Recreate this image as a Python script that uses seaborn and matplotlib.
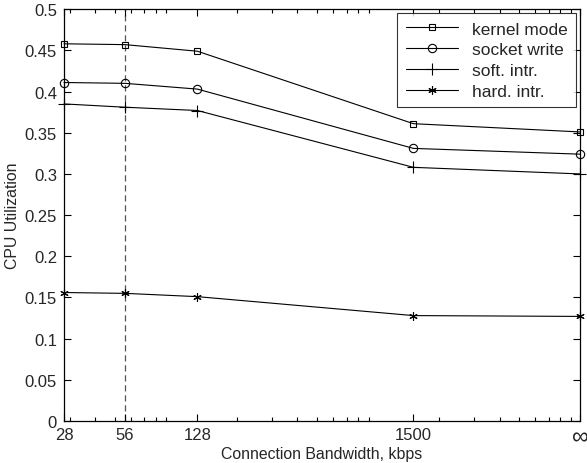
import matplotlib
matplotlib.use("Agg")
import matplotlib.pyplot as plt
import seaborn as sns
import pandas as pd
from matplotlib.ticker import FixedLocator, FixedFormatter, LogLocator, NullFormatter

# ---- data ----
bandwidth = [28, 56, 128, 1500, 10000]          # 10000 stands for "infinite"
x_tick_labels = ["28", "56", "128", "1500", "\u221e"]
kernel_mode = [0.458, 0.457, 0.449, 0.361, 0.351]
socket_write = [0.411, 0.410, 0.403, 0.331, 0.324]
soft_intr = [0.385, 0.381, 0.377, 0.308, 0.300]
hard_intr = [0.156, 0.155, 0.151, 0.128, 0.127]
series_names = ["kernel mode", "socket write", "soft. intr.", "hard. intr."]
y_ticks = [0, 0.05, 0.1, 0.15, 0.2, 0.25, 0.3, 0.35, 0.4, 0.45, 0.5]
y_tick_labels = ["0", "0.05", "0.1", "0.15", "0.2", "0.25", "0.3", "0.35", "0.4", "0.45", "0.5"]
dashed_at = 56

sns.set_style("ticks")
plt.rcParams["font.family"] = ["Liberation Sans", "DejaVu Sans"]

fig = plt.figure(figsize=(5.87, 4.64), dpi=100)
ax = fig.add_axes([0.109, 0.0905, 0.879, 0.8875])

values = [kernel_mode, socket_write, soft_intr, hard_intr]
markers = ["s", "o", "+", (6, 2, 0)]
msizes = [4.5, 6, 9, 6]
for name, vals, mk, ms in zip(series_names, values, markers, msizes):
    df = pd.DataFrame({"bw": bandwidth, "u": vals})
    sns.lineplot(data=df, x="bw", y="u", ax=ax, color="black", linewidth=0.8,
                 marker=mk, markersize=ms, markerfacecolor="none",
                 markeredgecolor="black", markeredgewidth=0.8, label=name,
                 clip_on=False)

ax.axvline(dashed_at, color="#555555", linestyle=(0, (5, 3)), linewidth=0.9, zorder=0)

ax.set_xscale("log")
ax.set_xlim(bandwidth[0], bandwidth[-1])
ax.set_ylim(0, 0.5)
ax.xaxis.set_major_locator(FixedLocator(bandwidth))
ax.xaxis.set_major_formatter(FixedFormatter(x_tick_labels))
ax.xaxis.set_minor_locator(LogLocator(base=10, subs=range(2, 10), numticks=20))
ax.xaxis.set_minor_formatter(NullFormatter())
ax.yaxis.set_major_locator(FixedLocator(y_ticks))
ax.yaxis.set_major_formatter(FixedFormatter(y_tick_labels))

ax.tick_params(which="both", direction="in", top=True, right=True, labelsize=12,
               width=0.8, color="black")
ax.tick_params(which="major", length=5)
ax.tick_params(axis="x", which="major", pad=4)
ax.tick_params(axis="y", which="major", pad=5)
ax.tick_params(which="minor", length=3)
for lab in ax.get_xticklabels():
    if lab.get_text() == "\u221e":
        lab.set_fontsize(17)
for sp in ax.spines.values():
    sp.set_linewidth(0.9)
    sp.set_color("black")

ax.set_xlabel("Connection Bandwidth, kbps", fontsize=11.4, labelpad=-2)
ax.set_ylabel("CPU Utilization", fontsize=11.4, labelpad=3)

leg = ax.legend(loc="upper right", fontsize=12.5, handlelength=3.0, frameon=True,
                fancybox=False, borderaxespad=0.2, labelspacing=0.32,
                handletextpad=0.8, borderpad=0.5)
leg.get_frame().set_edgecolor("black")
leg.get_frame().set_linewidth(0.8)

fig.savefig("out.png", dpi=100)
